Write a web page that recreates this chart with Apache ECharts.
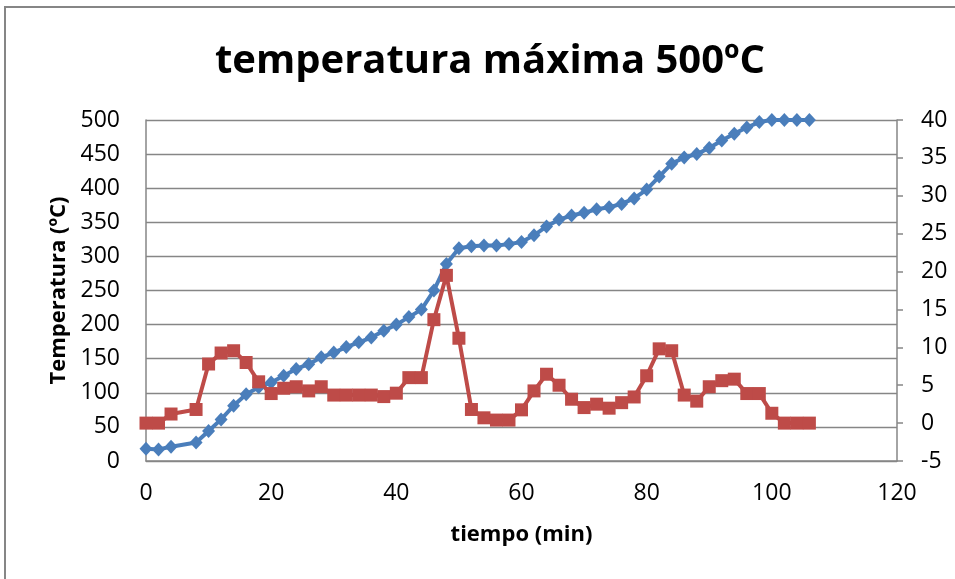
<!DOCTYPE html>
<html>
<head>
<meta charset="utf-8">
<title>temperatura máxima 500ºC</title>
<script src="https://cdn.jsdelivr.net/npm/echarts@6/dist/echarts.min.js"></script>
<style>
  html, body { margin: 0; padding: 0; background: #fff; }
  #chart { width: 955px; height: 579px; }
</style>
</head>
<body>
<div id="chart"></div>
<script>
// tiempo (min)
var tiempo = [0, 2, 4, 8, 10, 12, 14, 16, 18, 20, 22, 24, 26, 28, 30, 32, 34, 36, 38, 40,
  42, 44, 46, 48, 50, 52, 54, 56, 58, 60, 62, 64, 66, 68, 70, 72, 74, 76, 78, 80,
  82, 84, 86, 88, 90, 92, 94, 96, 98, 100, 102, 104, 106];
// temperatura (eje izquierdo)
var temperatura = [18, 17, 21, 27, 44, 61, 81, 98, 108, 115, 125, 135, 142, 152, 159, 167, 174, 181, 191, 200,
  211, 222, 250, 289, 312, 315, 316, 316, 318, 321, 331, 344, 354, 360, 364, 369, 372, 377, 385, 398,
  417, 436, 445, 450, 459, 470, 480, 489, 497, 500, 500, 500, 500];
// velocidad de calentamiento (eje derecho)
var velocidad = [0, 0, 1.2, 1.8, 7.8, 9.25, 9.55, 8.0, 5.45, 3.9, 4.6, 4.8, 4.25, 4.8, 3.7, 3.7, 3.7, 3.7, 3.5, 3.95,
  6.0, 6.0, 13.65, 19.5, 11.2, 1.8, 0.7, 0.4, 0.4, 1.75, 4.25, 6.45, 5.0, 3.15, 2.05, 2.5, 1.97, 2.7, 3.45, 6.25,
  9.8, 9.55, 3.7, 2.9, 4.8, 5.6, 5.8, 3.9, 3.9, 1.3, 0, 0, 0];

var font = "'Open Sans', 'DejaVu Sans', sans-serif";
var gris = "#868686";

function pares(xs, ys) {
  var out = [];
  for (var i = 0; i < xs.length; i++) {
    out.push([xs[i], ys[i]]);
  }
  return out;
}

var chart = echarts.init(document.getElementById("chart"), null, { renderer: "canvas" });

var option = {
  animation: false,
  backgroundColor: "#fff",
  title: {
    text: "temperatura máxima 500ºC",
    left: 485,
    top: 37,
    textAlign: "center",
    textStyle: {
      fontFamily: font,
      fontWeight: "bold",
      fontSize: 40,
      color: "#000"
    }
  },
  graphic: [
    {
      // marco exterior
      type: "rect",
      shape: { x: 5, y: 7, width: 960, height: 600 },
      style: { fill: "none", stroke: gris, lineWidth: 2 },
      silent: true
    }
  ],
  grid: {
    left: 146,
    right: 58,
    top: 120,
    bottom: 118,
    containLabel: false
  },
  xAxis: {
    type: "value",
    min: 0,
    max: 120,
    interval: 20,
    name: "tiempo (min)",
    nameLocation: "middle",
    nameGap: 63,
    nameTextStyle: { fontFamily: font, fontWeight: "bold", fontSize: 22, color: "#000" },
    axisLine: { show: true, lineStyle: { color: gris, width: 1.5 } },
    axisTick: { show: false },
    splitLine: { show: false },
    axisLabel: { fontFamily: font, fontSize: 23, color: "#000", margin: 21 }
  },
  yAxis: [
    {
      type: "value",
      min: 0,
      max: 500,
      interval: 50,
      name: "Temperatura (ºC)",
      nameLocation: "middle",
      nameGap: 76,
      nameTextStyle: { fontFamily: font, fontWeight: "bold", fontSize: 22, color: "#000" },
      axisLine: { show: true, lineStyle: { color: gris, width: 1.5 } },
      axisTick: { show: false },
      splitLine: { show: true, lineStyle: { color: gris, width: 1.3 } },
      axisLabel: { fontFamily: font, fontSize: 23, color: "#000", margin: 26 }
    },
    {
      type: "value",
      position: "right",
      min: -5,
      max: 40,
      interval: 5,
      axisLine: { show: true, lineStyle: { color: gris, width: 1.5 } },
      axisTick: { show: true, inside: false, length: 6, lineStyle: { color: gris, width: 1.5 } },
      splitLine: { show: false },
      axisLabel: { fontFamily: font, fontSize: 23, color: "#000", margin: 24 }
    }
  ],
  series: [
    {
      name: "Temperatura",
      type: "line",
      yAxisIndex: 0,
      data: pares(tiempo, temperatura),
      symbol: "diamond",
      symbolSize: [13, 14],
      showAllSymbol: true,
      lineStyle: { color: "#4a7ebb", width: 4 },
      itemStyle: { color: "#4a7ebb" }
    },
    {
      name: "Velocidad",
      type: "line",
      yAxisIndex: 1,
      data: pares(tiempo, velocidad),
      symbol: "rect",
      symbolSize: 13,
      showAllSymbol: true,
      lineStyle: { color: "#be4b48", width: 4 },
      itemStyle: { color: "#be4b48" }
    }
  ]
};

chart.setOption(option, true);
</script>
</body>
</html>
